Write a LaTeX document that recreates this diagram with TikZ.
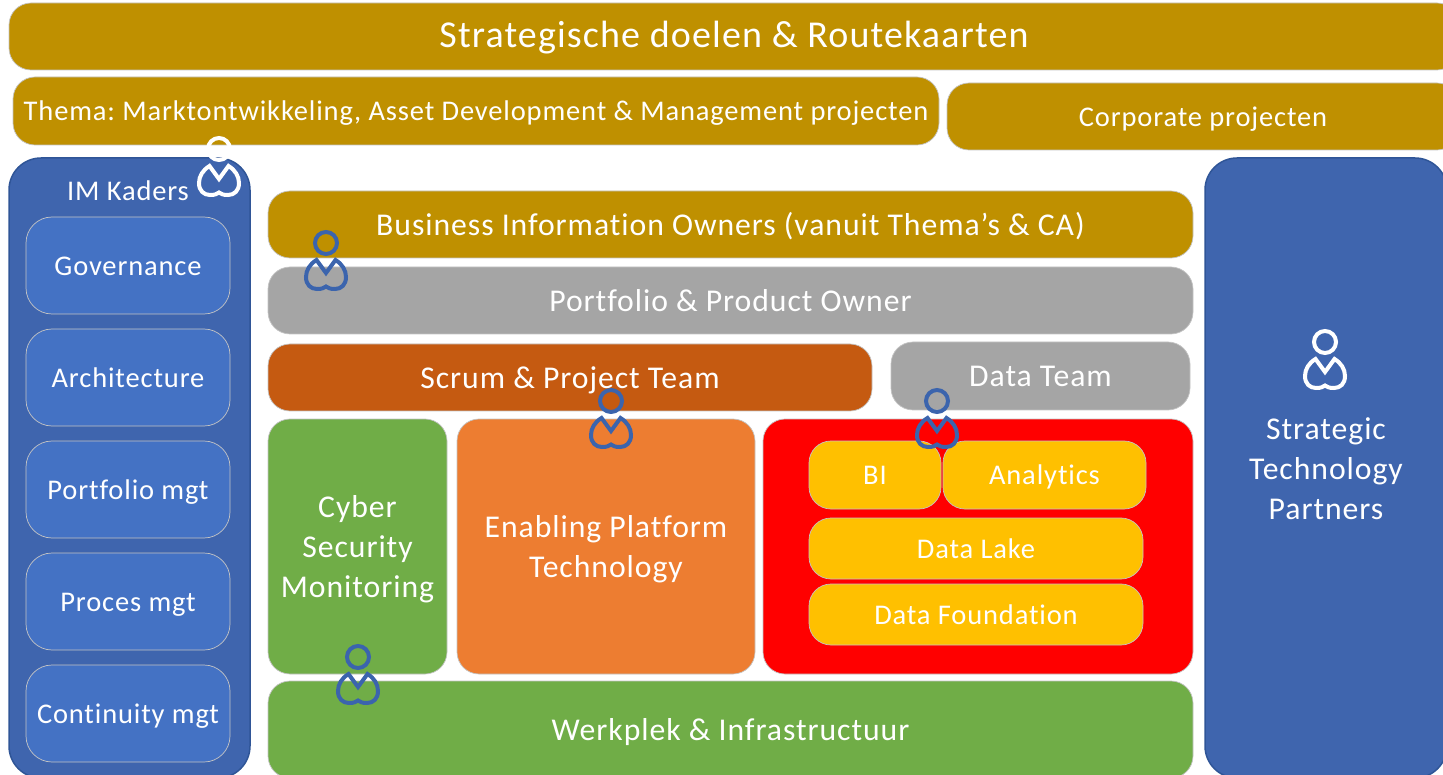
\documentclass[tikz,border=0pt]{standalone}
\usepackage{fontspec}
\setmainfont{Carlito}[LetterSpace=3,Ligatures=NoCommon]
\usetikzlibrary{positioning}

\definecolor{gold}{HTML}{BF9000}
\definecolor{panelblue}{HTML}{3F65AE}
\definecolor{paneledge}{HTML}{2F5597}
\definecolor{iconblue}{HTML}{3B64AD}
\definecolor{subblue}{HTML}{4472C4}
\definecolor{midgray}{HTML}{A5A5A5}
\definecolor{rust}{HTML}{C55A11}
\definecolor{leaf}{HTML}{70AD47}
\definecolor{tangerine}{HTML}{ED7D31}
\definecolor{amber}{HTML}{FFC000}
\definecolor{seam}{HTML}{C4C4C4}

\tikzset{
  plain/.style={draw=seam, line width=0.7pt, rounded corners=22pt, inner sep=0pt, text=white, align=center},
  block/.style={plain, text height=23.4pt, text depth=3.9pt, font=\fontsize{28.5}{40}\selectfont\frenchspacing},
  bigblock/.style={plain, text height=25.9pt, text depth=4.5pt, font=\fontsize{31.7}{40}\selectfont\frenchspacing},
  panel/.style={plain, fill=panelblue, draw=paneledge, line width=1.5pt, rounded corners=32pt},
  subblock/.style={block, fill=subblue, rounded corners=26pt, minimum width=204pt, minimum height=97pt},
  caption/.style={inner sep=0pt, text=white, align=center, font=\fontsize{31.7}{40}\selectfont},
  person/.pic={
    \path[pic actions, fill=none, line width=4pt] (0,0) circle [radius=11];
    \path[pic actions, fill=none, line width=4pt, line join=miter] (0,30) -- (-9.5,17)
      .. controls (-16,21) and (-20,27) .. (-20,34)
      .. controls (-20,42) and (-15,46) .. (-9,46)
      .. controls (-4,46) and (-2,45) .. (0,43.5)
      .. controls (2,45) and (4,46) .. (9,46)
      .. controls (15,46) and (20,42) .. (20,34)
      .. controls (20,27) and (16,21) .. (9.5,17) -- cycle;
  }
}

\begin{document}
\begin{tikzpicture}[x=1pt, y=-1pt]
\useasboundingbox (0,0) rectangle (1443,775);
% top bars
\node[plain, text height=29.6pt, text depth=6.8pt, fill=gold, minimum width=1450pt, minimum height=67pt, font=\fontsize{38}{40}\selectfont] (doelen) at (734,36.5) {Strategische doelen \& Routekaarten};
\node[block, fill=gold, minimum width=926pt, minimum height=68pt] (thema) at (476,111) {Thema: Marktontwikkeling, Asset Development \& Management projecten};
\node[block, fill=gold, minimum width=512pt, minimum height=67pt] (corporate) at (1203,116.5) {Corporate projecten};
% left panel
\node[panel, minimum width=241pt, minimum height=620pt] (kaders) at (129.5,468) {};
\node[block, draw=none] (kaderstitle) at (128,191) {IM Kaders};
\node[subblock] (governance) at (128,265.5) {Governance};
\node[subblock] (architecture) at (128,377.5) {Architecture};
\node[subblock] (portfolio) at (128,489.5) {Portfolio mgt};
\node[subblock] (proces) at (128,601.5) {Proces mgt};
\node[subblock] (continuity) at (128,713.5) {Continuity mgt};
% right panel
\node[panel, minimum width=242pt, minimum height=620pt] (partners) at (1326,468) {};
\node[caption] (partnerstext) at (1326,469) {Strategic\\Technology\\Partners};
% middle rows
\node[bigblock, fill=gold, minimum width=925pt, minimum height=67pt] (owners) at (730.5,224.5) {Business Information Owners (vanuit Thema’s \& CA)};
\node[bigblock, fill=midgray, minimum width=925pt, minimum height=67pt] (product) at (730.5,300.5) {Portfolio \& Product Owner};
\node[bigblock, fill=rust, minimum width=604pt, minimum height=67pt] (scrum) at (570,377.5) {Scrum \& Project Team};
\node[bigblock, fill=midgray, minimum width=299pt, minimum height=68pt] (datateam) at (1040.5,376) {Data Team};
\node[plain, fill=leaf, minimum width=179pt, minimum height=255pt] (cyber) at (357.5,546.5) {};
\node[caption] (cybertext) at (357.5,549.5) {Cyber\\Security\\Monitoring};
\node[plain, fill=tangerine, minimum width=298pt, minimum height=255pt] (enabling) at (606,546.5) {};
\node[caption] (enablingtext) at (606,549.5) {Enabling Platform\\Technology};
\node[plain, fill=red, minimum width=430pt, minimum height=255pt] (datablock) at (978,546.5) {};
\node[block, fill=amber, minimum width=132pt, minimum height=68pt] (bi) at (875,475) {BI};
\node[block, fill=amber, minimum width=203pt, minimum height=68pt] (analytics) at (1044.5,475) {Analytics};
\node[block, fill=amber, minimum width=334pt, minimum height=61pt] (lake) at (976,548.5) {Data Lake};
\node[block, fill=amber, minimum width=334pt, minimum height=61pt] (foundation) at (976,614.5) {Data Foundation};
\node[bigblock, fill=leaf, minimum width=925pt, minimum height=97pt] (werkplek) at (730.5,729.5) {Werkplek \& Infrastructuur};
% persons
\pic[draw=white] (kadersperson) at (219,149) {person};
\pic[draw=white] (partnersperson) at (1325,342) {person};
\pic[draw=iconblue] (ownerperson) at (326,243) {person};
\pic[draw=iconblue] (scrumperson) at (611,401) {person};
\pic[draw=iconblue] (dataperson) at (937,401) {person};
\pic[draw=iconblue] (cyberperson) at (358,657) {person};
\end{tikzpicture}
\end{document}
